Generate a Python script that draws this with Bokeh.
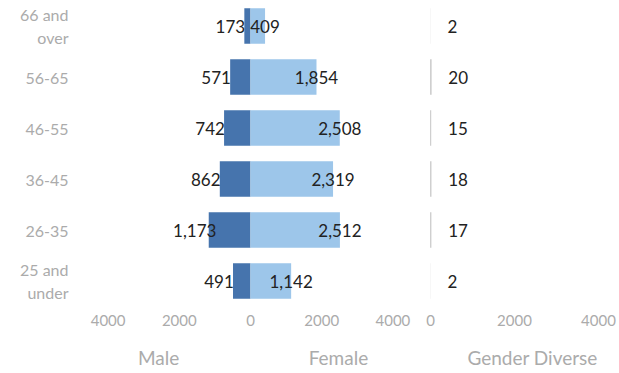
from bokeh.plotting import figure
from bokeh.models import ColumnDataSource, FixedTicker, LinearAxis, Range1d, FactorRange
from bokeh.layouts import row
from bokeh.embed import file_html
from bokeh.resources import INLINE
from bokeh.core.properties import value

age_groups = ["25 and\nunder", "26-35", "36-45", "46-55", "56-65", "66 and\nover"]
male = [491, 1173, 862, 742, 571, 173]
female = [1142, 2512, 2319, 2508, 1854, 409]
gender_diverse = [2, 17, 18, 15, 20, 2]

main_ticks = [-4000, -2000, 0, 2000, 4000]
main_tick_labels = {-4000: "4000", -2000: "2000", 0: "0", 2000: "2000", 4000: "4000"}
gd_ticks = [0, 2000, 4000]
group_titles = {-2580: "Male", 2470: "Female"}
gd_title = {2430: "Gender Diverse"}

DARK = "#4674ad"
LIGHT = "#9dc6ea"
GREY = "#ababab"
FONT = "Lato"

src = ColumnDataSource(dict(
    age=age_groups,
    male_left=[-v for v in male],
    female=female,
    gd=gender_diverse,
    male_txt=[f"{v:,}" for v in male],
    female_txt=[f"{v:,}" for v in female],
    gd_txt=[f"{v:,}" for v in gender_diverse],
))

y_range = FactorRange(factors=age_groups, range_padding=0)


def style_common(p):
    p.outline_line_color = None
    p.xgrid.visible = False
    p.ygrid.visible = False
    p.background_fill_color = "white"
    p.border_fill_color = "white"


def style_axis(ax, size, standoff):
    ax.axis_line_color = None
    ax.major_tick_line_color = None
    ax.minor_tick_line_color = None
    ax.major_tick_out = 0
    ax.major_tick_in = 0
    ax.major_label_text_color = GREY
    ax.major_label_text_font = FONT
    ax.major_label_text_font_size = size
    ax.major_label_standoff = standoff


# ---------- Male / Female ----------
p = figure(width=415, height=373, y_range=y_range, x_range=Range1d(-4775, 4635),
           output_backend="svg", toolbar_location=None,
           min_border_left=80, min_border_right=0, min_border_top=0, min_border_bottom=67)
style_common(p)

p.hbar(y="age", left="male_left", right=0, height=0.7, fill_color=DARK,
       line_color=None, source=src)
p.hbar(y="age", left=0, right="female", height=0.7, fill_color=LIGHT,
       line_color=None, source=src)

p.text(x="male_left", y="age", text="male_txt", source=src, text_align="center",
       text_baseline="middle", x_offset=-14, text_font=value(FONT),
       text_font_size="17px", text_color="#222222")
p.text(x="female", y="age", text="female_txt", source=src, text_align="center",
       text_baseline="middle", x_offset=0, text_font=value(FONT),
       text_font_size="17px", text_color="#222222")

xa = p.xaxis[0]
xa.ticker = FixedTicker(ticks=main_ticks)
xa.major_label_overrides = main_tick_labels
style_axis(xa, "15px", 8)

xa2 = LinearAxis(ticker=FixedTicker(ticks=list(group_titles.keys())),
                 major_label_overrides=group_titles)
style_axis(xa2, "19px", 17)
p.add_layout(xa2, "below")

ya = p.yaxis[0]
style_axis(ya, "16px", 12)
ya.major_label_text_align = "right"

# ---------- Gender Diverse ----------
q = figure(width=204, height=373, y_range=y_range, x_range=Range1d(-357, 4500),
           output_backend="svg", toolbar_location=None, y_axis_location=None,
           min_border_left=0, min_border_right=0, min_border_top=0, min_border_bottom=67)
style_common(q)

q.hbar(y="age", left=0, right="gd", height=0.7, fill_color="#a0a0a0",
       line_color=None, source=src)
q.text(x="gd", y="age", text="gd_txt", source=src, text_align="left",
       text_baseline="middle", x_offset=17, text_font=value(FONT),
       text_font_size="17px", text_color="#222222")

qa = q.xaxis[0]
qa.ticker = FixedTicker(ticks=gd_ticks)
style_axis(qa, "15px", 8)

qa2 = LinearAxis(ticker=FixedTicker(ticks=list(gd_title.keys())),
                 major_label_overrides=gd_title)
style_axis(qa2, "19px", 17)
q.add_layout(qa2, "below")

layout = row(p, q)
open("out.html", "w").write(file_html(layout, INLINE))
